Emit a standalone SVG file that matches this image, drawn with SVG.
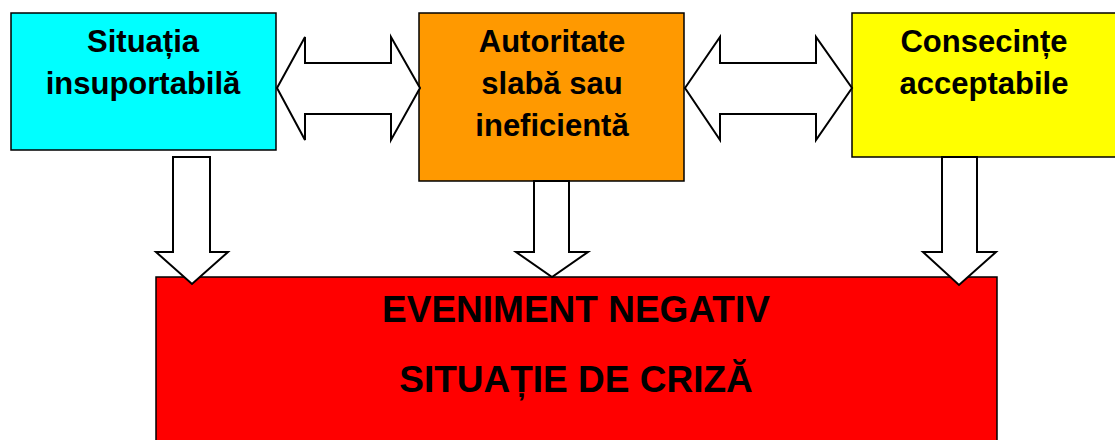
<svg xmlns="http://www.w3.org/2000/svg" width="1115" height="440" viewBox="0 0 1115 440">
<style>
.box{stroke:#000;stroke-width:1.5}
.arr{fill:#fff;stroke:#000;stroke-width:2;stroke-linejoin:miter}
.t{font-family:"Liberation Sans",Arial,sans-serif;font-weight:bold;font-size:31px;fill:#000;text-anchor:middle}
.tb{font-family:"Liberation Sans",Arial,sans-serif;font-weight:bold;font-size:37px;fill:#000;text-anchor:middle}
</style>
<rect width="1115" height="440" fill="#fff"/>
<g id="node-situatia">
<rect class="box" x="11" y="13" width="265" height="137" fill="#00FFFF"/>
<text class="t" x="143" y="52">Situația</text>
<text class="t" x="143" y="94">insuportabilă</text>
</g>
<g id="node-autoritate">
<rect class="box" x="419" y="13" width="265" height="168" fill="#FF9900"/>
<text class="t" x="552" y="52">Autoritate</text>
<text class="t" x="552" y="94">slabă sau</text>
<text class="t" x="552" y="136">ineficientă</text>
</g>
<g id="node-consecinte">
<rect class="box" x="852" y="13" width="264" height="144" fill="#FFFF00"/>
<text class="t" x="984" y="52">Consecințe</text>
<text class="t" x="984" y="94">acceptabile</text>
</g>
<g id="node-eveniment">
<rect class="box" x="156" y="277" width="841" height="170" fill="#FF0000"/>
<text class="tb" x="576" y="322">EVENIMENT NEGATIV</text>
<text class="tb" x="576" y="392">SITUAȚIE DE CRIZĂ</text>
</g>
<g id="connectors">
<polygon class="arr" points="277,88 305,37 305,63 391,63 391,37 420,88 391,140 391,114 305,114 305,140"/>
<polygon class="arr" points="685,88 720,37 720,63 816,63 816,37 852,88 816,140 816,114 720,114 720,140"/>
<polygon class="arr" points="173,157 210,157 210,252 228,252 192,284 156,252 173,252"/>
<polygon class="arr" points="534,181 569,181 569,252 588,252 552,277 516,252 534,252"/>
<polygon class="arr" points="942,157 977,157 977,252 996,252 959,285 923,252 942,252"/>
</g>
</svg>
